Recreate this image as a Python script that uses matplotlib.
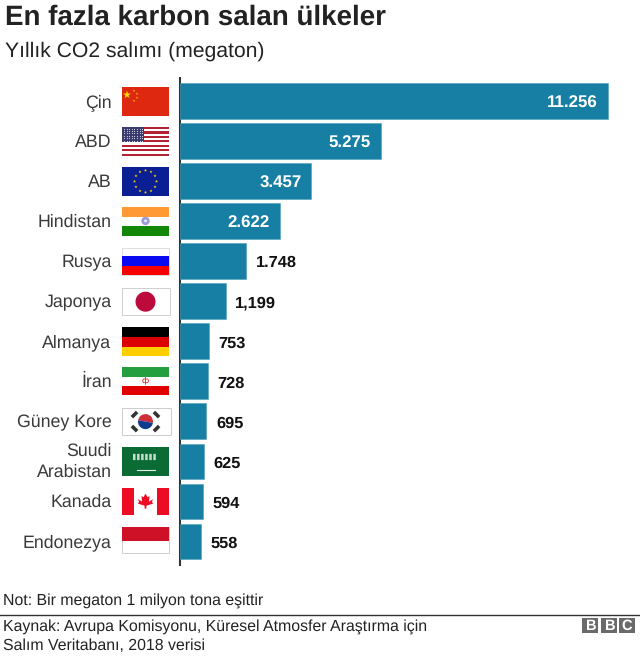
import numpy as np
import matplotlib
matplotlib.use('Agg')
import matplotlib.pyplot as plt
from matplotlib.patches import Rectangle, Circle, Wedge, Polygon

plt.rcParams['font.family'] = ['Liberation Sans', 'DejaVu Sans']
plt.rcParams['text.hinting'] = 'none'

countries = ['Çin', 'ABD', 'AB', 'Hindistan', 'Rusya', 'Japonya', 'Almanya', 'İran',
             'Güney Kore', 'Suudi\nArabistan', 'Kanada', 'Endonezya']
emissions = [11256, 5275, 3457, 2622, 1748, 1199, 753, 728, 695, 625, 594, 558]
value_labels = ['11.256', '5.275', '3.457', '2.622', '1.748', '1,199', '753', '728',
                '695', '625', '594', '558']
flag_codes = ['cn', 'us', 'eu', 'in', 'ru', 'jp', 'de', 'ir', 'kr', 'sa', 'ca', 'id']

W, H = 640, 659
BAR_COLOR = '#167fa3'
TEXT_DARK = '#3a3a3a'

fig = plt.figure(figsize=(W / 100, H / 100), dpi=100)

# overlay in pixel coordinates for text, flags and rules
px = fig.add_axes([0, 0, 1, 1])
px.set_xlim(0, W)
px.set_ylim(H, 0)
px.axis('off')

# bars, axes runs from the baseline to the right edge
top, bottom = 81, 561.4
ax = fig.add_axes([180 / W, 1 - bottom / H, (W - 180) / W, (bottom - top) / H])
ypos = np.arange(len(countries))
ax.barh(ypos, emissions, height=0.89, color=BAR_COLOR, edgecolor='#4f9fbb', linewidth=0.4)
ax.set_xlim(0, (W - 180) / 0.03802)
ax.set_ylim(len(countries) - 0.5, -0.5)
ax.axis('off')

for i, (v, lab) in enumerate(zip(emissions, value_labels)):
    if v > 2000:
        ax.annotate(lab, (v, i), xytext=(-10, -2), textcoords='offset pixels', ha='right',
                    va='center', color='white', fontsize=12.2, fontweight='bold')
    else:
        ax.annotate(lab, (v, i), xytext=(9.5, -2), textcoords='offset pixels', ha='left',
                    va='center', color='#111111', fontsize=11.8, fontweight='bold')

# vertical baseline
px.plot([179.5, 179.5], [77, 566], color='#333333', lw=1.5, solid_capstyle='butt')


def rect(x0, y0, x1, y1, c, z=3, **kw):
    px.add_patch(Rectangle((x0, y0), x1 - x0, y1 - y0, facecolor=c, edgecolor=kw.pop('ec', 'none'),
                           linewidth=kw.pop('lw', 0), zorder=z))


def star(cx, cy, r, c, z=5):
    ang = np.deg2rad(-90 + 36 * np.arange(10))
    rad = np.where(np.arange(10) % 2 == 0, r, r * 0.4)
    px.add_patch(Polygon(np.c_[cx + rad * np.cos(ang), cy + rad * np.sin(ang)],
                         facecolor=c, edgecolor='none', zorder=z))


def draw_flag(code, cy):
    x0, x1 = 122, 169
    t, b = cy - 14.5, cy + 14.5
    if code == 'cn':
        rect(x0, t, x1, b, '#de2910')
        star(127, t + 8, 4, '#ffde00')
        for dx, dy in [(134, 4), (137, 7), (137, 11), (134, 14)]:
            star(dx, t + dy, 1.2, '#ffde00')
    elif code == 'us':
        h = (b - t) / 13
        for k in range(13):
            rect(x0, t + k * h, x1, t + (k + 1) * h, '#b22234' if k % 2 == 0 else 'white')
        rect(x0, t, x0 + 22, t + 7 * h, '#3c3b6e', z=4)
        for sx in np.arange(x0 + 2, x0 + 21, 2.6):
            for sy in np.arange(t + 1.8, t + 7 * h - 0.8, 2.4):
                px.plot(sx, sy, 's', ms=0.7, color='#c9c9dd', mew=0, zorder=5)
    elif code == 'eu':
        rect(x0, t, x1, b, '#0b1f94')
        for a in np.deg2rad(np.arange(0, 360, 30)):
            star(145.5 + 11 * np.cos(a), cy + 11 * np.sin(a), 1.6, '#ffd400')
    elif code == 'in':
        rect(x0, t, x1, t + 10, '#ff9933')
        rect(x0, t + 10, x1, b - 10, 'white')
        rect(x0, b - 10, x1, b, '#138808')
        px.add_patch(Circle((145.5, cy - 0.5), 4.2, facecolor='#9c9cd6', edgecolor='none', zorder=4))
        px.add_patch(Circle((145.5, cy - 0.5), 1.4, facecolor='#eeeeff', edgecolor='none', zorder=5))
    elif code == 'ru':
        t, b = cy - 13, cy + 14
        rect(x0, t, x1, b, 'white', ec='#d8d8d8', lw=0.6)
        rect(x0, t + 8, x1, t + 17.5, '#0a0af0', z=4)
        rect(x0, t + 17.5, x1, b, '#f80000', z=4)
    elif code == 'jp':
        rect(121.5, cy - 13, 169.5, cy + 13.5, 'white', ec='#cfcfcf', lw=0.7)
        px.add_patch(Circle((145.5, cy + 0.2), 10, facecolor='#bc0a3c', edgecolor='none', zorder=4))
    elif code == 'de':
        rect(x0, t, x1, t + 10, '#000000')
        rect(x0, t + 10, x1, t + 20, '#dd0000')
        rect(x0, t + 20, x1, b, '#ffce00')
    elif code == 'ir':
        t, b = cy - 14.5, cy + 13.5
        rect(x0, t, x1, t + 9.5, '#239f40')
        rect(x0, t + 9.5, x1, b - 9.5, 'white')
        rect(x0, b - 9.5, x1, b, '#e00000')
        px.text(145.5, cy - 0.5, 'ф', color='#da0000', fontsize=6, ha='center', va='center',
                family=['DejaVu Sans'], zorder=5)
    elif code == 'kr':
        rect(122, cy - 13.5, 170.5, cy + 13.5, 'white', ec='#cccccc', lw=0.7)
        px.add_patch(Wedge((145.5, cy), 7.5, 190, 370, facecolor='#cd2e3a', edgecolor='none', zorder=4))
        px.add_patch(Wedge((145.5, cy), 7.5, 10, 190, facecolor='#0f3a8e', edgecolor='none', zorder=4))
        for sx, sy, sgn in [(134.5, cy - 7, 1), (156.5, cy - 7, -1), (134.5, cy + 7, -1), (156.5, cy + 7, 1)]:
            px.plot([sx - 2.6, sx + 2.6], [sy + sgn * 2.6, sy - sgn * 2.6],
                    color='#333333', lw=2.6, zorder=4, solid_capstyle='butt')
    elif code == 'sa':
        rect(x0, t, x1, b, '#0b6b34')
        px.plot([133, 157], [cy - 5, cy - 5], color='#c7dccd', lw=4.5, ls=(0, (0.4, 0.25)), zorder=4)
        px.plot([137, 155], [cy + 8, cy + 8], color='#e6f0ea', lw=0.8, zorder=4)
    elif code == 'ca':
        t, b = cy - 13.5, cy + 13.5
        rect(x0, t, x1, b, 'white')
        rect(x0, t, x0 + 12, b, '#ee0c24', z=4)
        rect(x1 - 12, t, x1, b, '#ee0c24', z=4)
        leaf_x = [0, 2, 4, 3.5, 7.5, 6.5, 7.5, 1, 0.8, -0.8, -1, -7.5, -6.5, -7.5, -3.5, -4, -2]
        leaf_y = [-8, -4.5, -5.5, 0, -2.5, 0, 2, 4, 7, 7, 4, 2, 0, -2.5, 0, -5.5, -4.5]
        px.add_patch(Polygon(np.c_[145.5 + np.array(leaf_x), cy + np.array(leaf_y)],
                             facecolor='#ee0c24', edgecolor='none', zorder=5))
    elif code == 'id':
        rect(x0, cy - 14.5, x1, cy + 11.5, 'white', ec='#cfcfcf', lw=0.7)
        rect(x0, cy - 14.5, x1, cy - 1, '#ce1126', z=4)


flag_centers = np.linspace(101.3, 541.7, len(countries))
for name, code, cy in zip(countries, flag_codes, flag_centers):
    if '\n' in name:
        px.text(111.5, cy, name, ha='right', va='center', fontsize=12.8, color=TEXT_DARK,
                linespacing=1.3)
    else:
        px.text(111.5, cy + 1, name, ha='right', va='center', fontsize=12.8, color=TEXT_DARK)
    draw_flag(code, cy)

# titles
px.text(5, 17, 'En fazla karbon salan ülkeler', fontsize=20, fontweight='bold', color='#222222',
        ha='left', va='center')
px.text(5, 51, 'Yıllık CO2 salımı (megaton)', fontsize=15.2, color='#222222', ha='left', va='center')

# footer
px.text(3, 600.5, 'Not: Bir megaton 1 milyon tona eşittir', fontsize=11.45, color='#222222', ha='left', va='center')
px.plot([0, W], [614.5, 614.5], color='#333333', lw=1)
px.text(3, 626.5, 'Kaynak: Avrupa Komisyonu, Küresel Atmosfer Araştırma için', fontsize=11.45,
        color='#222222', ha='left', va='center')
px.text(3, 645.5, 'Salım Veritabanı, 2018 verisi', fontsize=11.45, color='#222222', ha='left', va='center')

# BBC blocks
for bx, letter in zip([582, 601, 619], 'BBC'):
    rect(bx, 618, bx + 16, 633, '#6a6a6a')
    px.text(bx + 8, 625.7, letter, color='white', fontsize=10.5, fontweight='bold', ha='center', va='center', zorder=5)

fig.savefig('out.png', dpi=100)
